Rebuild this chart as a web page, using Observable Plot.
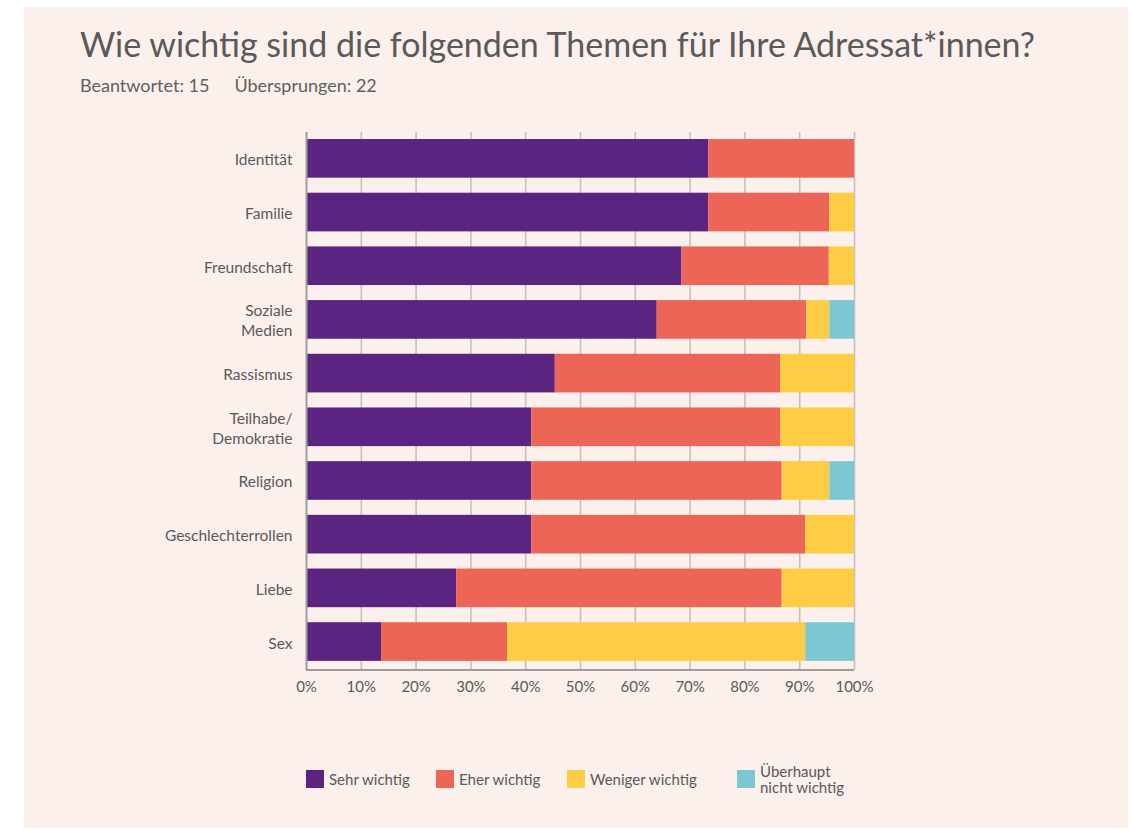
<!DOCTYPE html>
<html>
<head>
<meta charset="utf-8">
<script src="https://cdn.jsdelivr.net/npm/d3@7"></script>
<script src="https://cdn.jsdelivr.net/npm/@observablehq/plot@0.6"></script>
<style>
  html, body { margin: 0; padding: 0; background: #ffffff; }
  body { width: 1132px; height: 830px; position: relative; overflow: hidden; font-family: Lato, "Open Sans", sans-serif; }
  #panel { position: absolute; left: 24px; top: 7px; width: 1104px; height: 821px; background: #fcf0ec; }
  #title { position: absolute; left: 80px; top: 27px; margin: 0; font-size: 34px; line-height: 1; font-weight: 400; color: #5a5a5a; white-space: nowrap; }
  #subtitle { position: absolute; left: 80px; top: 76px; margin: 0; font-size: 18px; line-height: 1; color: #5f5f5f; white-space: nowrap; }
  #subtitle span + span { margin-left: 25px; }
  #chart { position: absolute; left: 0; top: 110px; }
  #legend { position: absolute; left: 306px; top: 763px; display: grid; grid-template-columns: 130px 131px 170px auto; align-items: center; font-size: 15px; color: #5a5a5a; }
  .item { display: flex; align-items: center; }
  .sw { width: 18px; height: 18px; margin-right: 5px; flex: none; }
  .lbl { line-height: 16px; }
</style>
</head>
<body>
<div id="panel"></div>
<h1 id="title">Wie wichtig sind die folgenden Themen für Ihre Adressat*innen?</h1>
<p id="subtitle"><span>Beantwortet: 15</span><span>Übersprungen: 22</span></p>
<div id="chart"></div>
<div id="legend"></div>
<script>
const categories = ["Identität", "Familie", "Freundschaft", "Soziale\nMedien", "Rassismus", "Teilhabe/\nDemokratie", "Religion", "Geschlechterrollen", "Liebe", "Sex"];
const series = ["Sehr wichtig", "Eher wichtig", "Weniger wichtig", "Überhaupt\nnicht wichtig"];
const colors = ["#5b2480", "#ec6557", "#fecd45", "#7cc8d2"];
const sehrWichtig = [73.4, 73.4, 68.5, 64.0, 45.4, 41.1, 41.1, 41.1, 27.4, 13.7];
const eherWichtig = [26.6, 22.1, 26.9, 27.3, 41.1, 45.4, 45.7, 50.0, 59.4, 23.0];
const wenigerWichtig = [0, 4.5, 4.6, 4.2, 13.5, 13.5, 8.7, 8.9, 13.2, 54.4];
const nichtWichtig = [0, 0, 0, 4.5, 0, 0, 4.5, 0, 0, 8.9];
const xTicks = [0, 10, 20, 30, 40, 50, 60, 70, 80, 90, 100];

const valuesBySeries = [sehrWichtig, eherWichtig, wenigerWichtig, nichtWichtig];
const rows = [];
categories.forEach((cat, i) => {
  series.forEach((s, j) => rows.push({cat, series: s, value: valuesBySeries[j][i]}));
});

const axisLine = (index, scales, values, dims) => {
  const y = dims.height - dims.marginBottom;
  return d3.create("svg:line")
    .attr("x1", scales.x(0)).attr("x2", scales.x(100))
    .attr("y1", y).attr("y2", y)
    .attr("stroke", "#a29c99").attr("stroke-width", 2)
    .node();
};

const chart = Plot.plot({
  width: 1132,
  height: 610,
  marginLeft: 306,
  marginRight: 278,
  marginTop: 22,
  marginBottom: 50,
  style: { background: "transparent", fontFamily: "Lato, 'Open Sans', sans-serif", fontSize: "15px", color: "#5a5a5a" },
  x: { domain: [0, 100], label: null },
  y: { type: "band", domain: categories, range: [21.5, 558.4], round: false, paddingInner: 0.28, paddingOuter: 0.14, label: null },
  color: { domain: series, range: colors },
  marks: [
    Plot.gridX(xTicks.slice(1), { stroke: "#c6bfbc", strokeOpacity: 1, strokeWidth: 1.6 }),
    Plot.barX(rows, Plot.stackX({ x: "value", y: "cat", fill: "series", order: series })),
    Plot.ruleX([0], { stroke: "#a29c99", strokeWidth: 2 }),
    axisLine,
    Plot.axisX({ ticks: xTicks, tickFormat: d => d + "%", tickSize: 0, tickPadding: 11, fontSize: 15, label: null }),
    Plot.axisY({ tickSize: 0, tickPadding: 14, fontSize: 15.5, lineHeight: 1.3, label: null })
  ]
});
document.getElementById("chart").appendChild(chart);

const legend = d3.select("#legend");
series.forEach((s, j) => {
  const item = legend.append("div").attr("class", "item");
  item.append("div").attr("class", "sw").style("background", colors[j]);
  const lbl = item.append("div").attr("class", "lbl");
  s.split("\n").forEach(line => lbl.append("div").text(line));
});
</script>
</body>
</html>
